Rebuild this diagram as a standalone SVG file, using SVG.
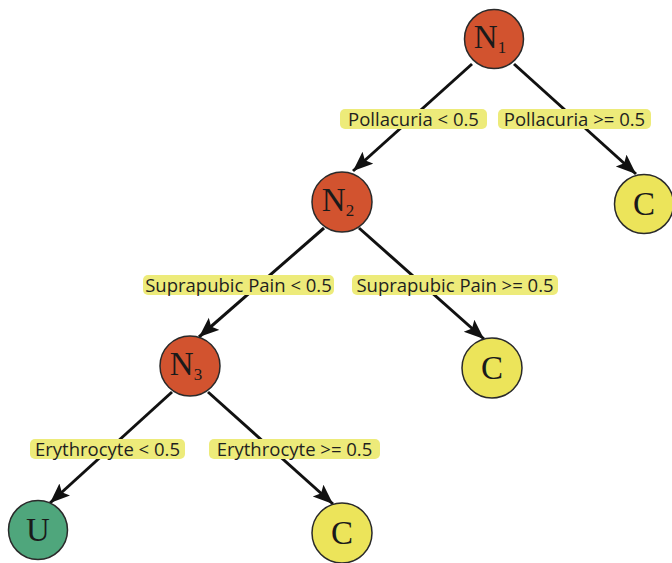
<svg xmlns="http://www.w3.org/2000/svg" width="672" height="563" viewBox="0 0 672 563">
<style>
.n circle{stroke:#2a2a2a;stroke-width:1.5}
.red{fill:#D2532F}
.yel{fill:#ECE45A}
.grn{fill:#4FA67C}
.nt{font-family:"Liberation Serif","Times New Roman",serif;font-size:33px;fill:#1a1a1a;text-anchor:middle}
.sub{font-size:17px}
.lb rect{fill:#EDEB7A}
.lb text{font-family:"Open Sans","Noto Sans",sans-serif;font-size:18.5px;fill:#1f1f1f;text-anchor:middle}
.e line{stroke:#111;stroke-width:3;marker-end:url(#ah)}
</style>
<defs>
<marker id="ah" markerUnits="userSpaceOnUse" markerWidth="22" markerHeight="18" refX="20" refY="8" orient="auto">
<path d="M0,0 L20,8 L0,16 L4,8 Z" fill="#111"/>
</marker>
</defs>
<rect width="672" height="563" fill="#fff"/>
<g id="edges" class="e">
<line x1="472" y1="64" x2="353" y2="171"/>
<line x1="514" y1="64" x2="636" y2="174"/>
<line x1="324" y1="228" x2="199" y2="337"/>
<line x1="359" y1="228" x2="484" y2="339"/>
<line x1="172" y1="392" x2="50" y2="503"/>
<line x1="208" y1="392" x2="333" y2="504"/>
</g>
<g id="labels" class="lb">
<g id="l1"><rect x="340" y="109" width="147" height="20" rx="5"/><text x="413.5" y="126">Pollacuria &lt; 0.5</text></g>
<g id="l2"><rect x="498" y="109" width="153" height="20" rx="5"/><text x="574.5" y="126">Pollacuria &gt;= 0.5</text></g>
<g id="l3"><rect x="143" y="275" width="191" height="20" rx="5"/><text x="238.5" y="292">Suprapubic Pain &lt; 0.5</text></g>
<g id="l4"><rect x="352" y="275" width="206" height="20" rx="5"/><text x="455" y="292">Suprapubic Pain &gt;= 0.5</text></g>
<g id="l5"><rect x="30" y="439" width="155" height="20" rx="5"/><text x="107.5" y="456">Erythrocyte &lt; 0.5</text></g>
<g id="l6"><rect x="209" y="439" width="171" height="20" rx="5"/><text x="294.5" y="456">Erythrocyte &gt;= 0.5</text></g>
</g>
<g id="N1" class="n"><circle class="red" cx="494" cy="39" r="29.5"/><text class="nt" x="490" y="48">N<tspan class="sub" dy="5">1</tspan></text></g>
<g id="N2" class="n"><circle class="red" cx="342" cy="202" r="30"/><text class="nt" x="338" y="211">N<tspan class="sub" dy="5">2</tspan></text></g>
<g id="N3" class="n"><circle class="red" cx="190" cy="366" r="30"/><text class="nt" x="186" y="375">N<tspan class="sub" dy="5">3</tspan></text></g>
<g id="C1" class="n"><circle class="yel" cx="644" cy="204" r="29.5"/><text class="nt" x="644" y="215">C</text></g>
<g id="C2" class="n"><circle class="yel" cx="492" cy="368" r="30"/><text class="nt" x="492" y="379">C</text></g>
<g id="C3" class="n"><circle class="yel" cx="342" cy="533" r="30"/><text class="nt" x="342" y="544">C</text></g>
<g id="U" class="n"><circle class="grn" cx="38" cy="530" r="29.5"/><text class="nt" x="38" y="541">U</text></g>
</svg>
